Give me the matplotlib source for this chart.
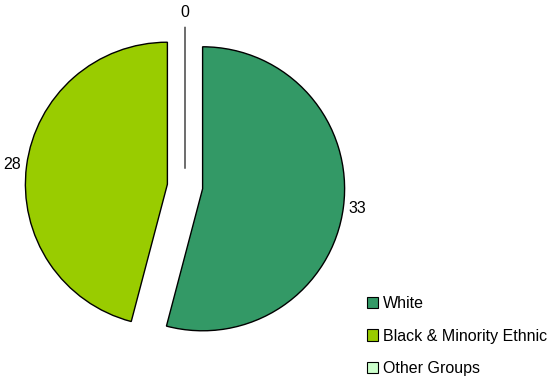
import matplotlib
matplotlib.use("Agg")
import matplotlib.pyplot as plt
import matplotlib.patches as patches

plt.rcParams['font.family'] = ['Liberation Sans', 'DejaVu Sans']

# data
groups = ["White", "Black & Minority Ethnic", "Other Groups"]
counts = [33, 28, 0]
colors = ['#339966', '#99cc00', '#ccffcc']

W, H = 551, 377
fig = plt.figure(figsize=(W / 100, H / 100), dpi=100)
ax = fig.add_axes([0, 0, 1, 1])

wedges, texts = ax.pie(
    counts, labels=[str(c) for c in counts], colors=colors,
    startangle=90, counterclock=False, explode=[0.125, 0.125, 0.125],
    labeldistance=1.1, radius=1.0,
    wedgeprops=dict(edgecolor='black', linewidth=1.0),
    textprops=dict(fontsize=11.5, color='black'))
for t in texts:
    t.set_ha('center')
    t.set_va('center')
wedges[2].set_edgecolor('#333333')

# place pie center at (185, 186.5) px with radius 142 px
s = 142.0
cx, cy = 185.0, 186.5
ax.set_xlim(-cx / s, (W - cx) / s)
ax.set_ylim(-(H - cy) / s, cy / s)
ax.set_aspect('auto')
ax.axis('off')

handles = [patches.Patch(facecolor=c, edgecolor='black', linewidth=0.8) for c in colors]
fig.legend(handles, groups, loc='upper left',
           bbox_to_anchor=(367 / W, 1 - 296 / H), bbox_transform=fig.transFigure,
           frameon=False, fontsize=11.5, handlelength=0.7, handleheight=0.7,
           handletextpad=0.3, labelspacing=1.1, borderpad=0, borderaxespad=0)

fig.savefig("out.png", dpi=100)
